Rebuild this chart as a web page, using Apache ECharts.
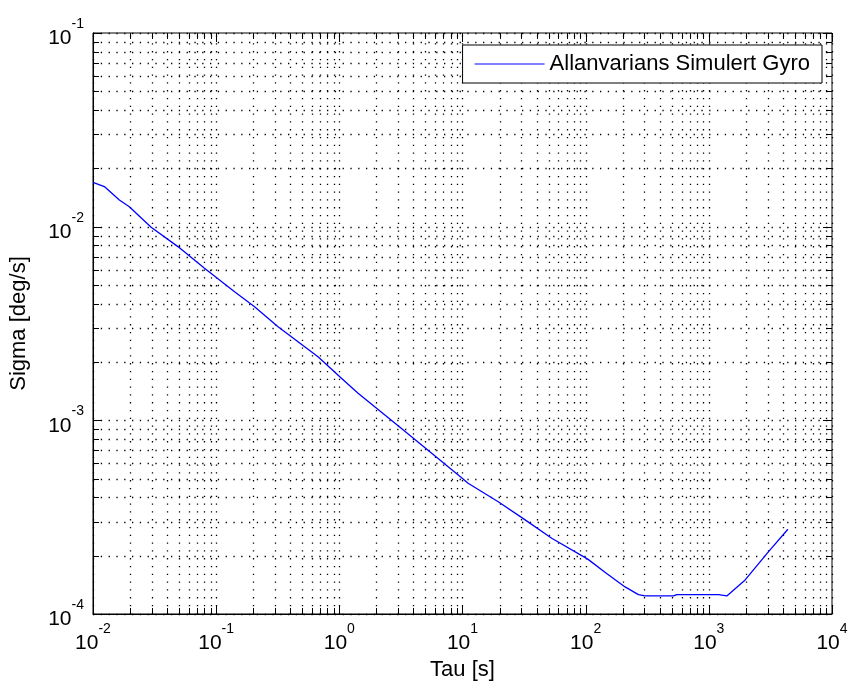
<!DOCTYPE html>
<html>
<head>
<meta charset="utf-8">
<script src="https://cdn.jsdelivr.net/npm/echarts@6/dist/echarts.min.js"></script>
<style>
html,body{margin:0;padding:0;background:#fff;}
#c{width:851px;height:688px;}
</style>
</head>
<body>
<div id="c"></div>
<script>
// Data
const tau = [0.0100, 0.01236, 0.01637, 0.01972, 0.02965, 0.0489, 0.0804, 0.141, 0.205, 0.318, 0.671, 1.04, 1.42, 3.16, 5.62, 10.0, 11.1, 19.5, 31.6, 53.0, 104, 148, 209, 268, 303, 516, 550, 1200, 1400, 1972, 3055, 4385];
const sigma = [0.01694, 0.01611, 0.01374, 0.01268, 0.00993, 0.00789, 0.00610, 0.00461, 0.00386, 0.00304, 0.00213, 0.00165, 0.00138, 0.000912, 0.000676, 0.000501, 0.000473, 0.000380, 0.000309, 0.000246, 0.000192, 0.000162, 0.000138, 0.000126, 0.000124, 0.000124, 0.000126, 0.000126, 0.000124, 0.000150, 0.000210, 0.000274];
const seriesName = 'Allanvarians Simulert Gyro';
const xDecades = [-2, -1, 0, 1, 2, 3, 4];
const yDecades = [-4, -3, -2, -1];
const minorMult = [2, 3, 4, 5, 6, 7, 8, 9];
const xTitle = 'Tau [s]';
const yTitle = 'Sigma [deg/s]';

const xMin = Math.pow(10, xDecades[0]), xMax = Math.pow(10, xDecades[xDecades.length - 1]);
const yMin = Math.pow(10, yDecades[0]), yMax = Math.pow(10, yDecades[yDecades.length - 1]);

// grid line items: [x, y, orientation(0=vertical,1=horizontal), major(1)/minor(0)]
const gridItems = [];
xDecades.forEach((k, i) => {
  gridItems.push([Math.pow(10, k), yMin, 0, 1]);
  if (i < xDecades.length - 1) minorMult.forEach(m => gridItems.push([m * Math.pow(10, k), yMin, 0, 0]));
});
yDecades.forEach((k, i) => {
  gridItems.push([xMin, Math.pow(10, k), 1, 1]);
  if (i < yDecades.length - 1) minorMult.forEach(m => gridItems.push([xMin, m * Math.pow(10, k), 1, 0]));
});

const labelFmt = v => '{b|10}{s|' + Math.round(Math.log10(v)) + '}';
const rich = {
  b: {fontSize: 21, lineHeight: 32, color: '#000', fontFamily: 'Liberation Sans', verticalAlign: 'bottom'},
  s: {fontSize: 14, lineHeight: 11, color: '#000', fontFamily: 'Liberation Sans', verticalAlign: 'top'}
};

const chart = echarts.init(document.getElementById('c'), null, {renderer: 'canvas'});
chart.setOption({
  backgroundColor: '#fff',
  animation: false,
  grid: {left: 92, right: 19, top: 33, bottom: 74, show: true, borderColor: '#000', borderWidth: 1, backgroundColor: '#fff'},
  legend: {
    right: 29, top: 45,
    backgroundColor: '#fff', borderColor: '#000', borderWidth: 1,
    padding: [8, 12, 8, 12],
    itemWidth: 70, itemHeight: 14,
    textStyle: {fontSize: 22, fontFamily: 'Liberation Sans', color: '#000'},
    data: [{name: seriesName, icon: 'path://M0,7 L70,7 L70,8 L0,8 Z'}]
  },
  xAxis: {
    type: 'log', logBase: 10, min: xMin, max: xMax, interval: 1,
    name: xTitle, nameLocation: 'middle', nameGap: 44,
    nameTextStyle: {fontSize: 22, fontFamily: 'Liberation Sans', color: '#000'},
    axisLine: {show: true, lineStyle: {color: '#000', width: 1}},
    axisTick: {show: false},
    splitLine: {show: false},
    axisLabel: {formatter: labelFmt, rich: rich, margin: 8, showMinLabel: true, showMaxLabel: true}
  },
  yAxis: {
    type: 'log', logBase: 10, min: yMin, max: yMax, interval: 1,
    name: yTitle, nameLocation: 'middle', nameGap: 63,
    nameTextStyle: {fontSize: 22, fontFamily: 'Liberation Sans', color: '#000'},
    axisLine: {show: true, lineStyle: {color: '#000', width: 1}},
    axisTick: {show: false},
    splitLine: {show: false},
    axisLabel: {formatter: labelFmt, rich: rich, margin: 9, showMinLabel: true, showMaxLabel: true}
  },
  series: [
    {
      type: 'custom',
      silent: true,
      z: 1,
      encode: {x: 0, y: 1},
      data: gridItems,
      renderItem: function (params, api) {
        const orient = api.value(2), major = api.value(3);
        const tl = major ? 9 : 6;
        const dotted = {stroke: '#000', lineWidth: 1.3, lineDash: [1.3, 6.5], fill: null};
        const solid = {stroke: '#000', lineWidth: 1, fill: null};
        if (orient === 0) {
          const v = api.value(0);
          const p1 = api.coord([v, yMin]), p2 = api.coord([v, yMax]);
          const x = Math.round(p1[0]) + 0.5;
          return {type: 'group', children: [
            {type: 'line', shape: {x1: x, y1: p1[1], x2: x, y2: p2[1]}, style: dotted},
            {type: 'line', shape: {x1: x, y1: p1[1], x2: x, y2: p1[1] - tl}, style: solid},
            {type: 'line', shape: {x1: x, y1: p2[1], x2: x, y2: p2[1] + tl}, style: solid}
          ]};
        } else {
          const v = api.value(1);
          const p1 = api.coord([xMin, v]), p2 = api.coord([xMax, v]);
          const y = Math.round(p1[1]) + 0.5;
          return {type: 'group', children: [
            {type: 'line', shape: {x1: p1[0], y1: y, x2: p2[0], y2: y}, style: dotted},
            {type: 'line', shape: {x1: p1[0], y1: y, x2: p1[0] + tl, y2: y}, style: solid},
            {type: 'line', shape: {x1: p2[0], y1: y, x2: p2[0] - tl, y2: y}, style: solid}
          ]};
        }
      }
    },
    {
      name: seriesName,
      type: 'line',
      z: 3,
      symbol: 'none',
      smooth: false,
      lineStyle: {color: '#0000ff', width: 1.3},
      itemStyle: {color: '#0000ff'},
      data: tau.map((t, i) => [t, sigma[i]])
    }
  ]
});
</script>
</body>
</html>
